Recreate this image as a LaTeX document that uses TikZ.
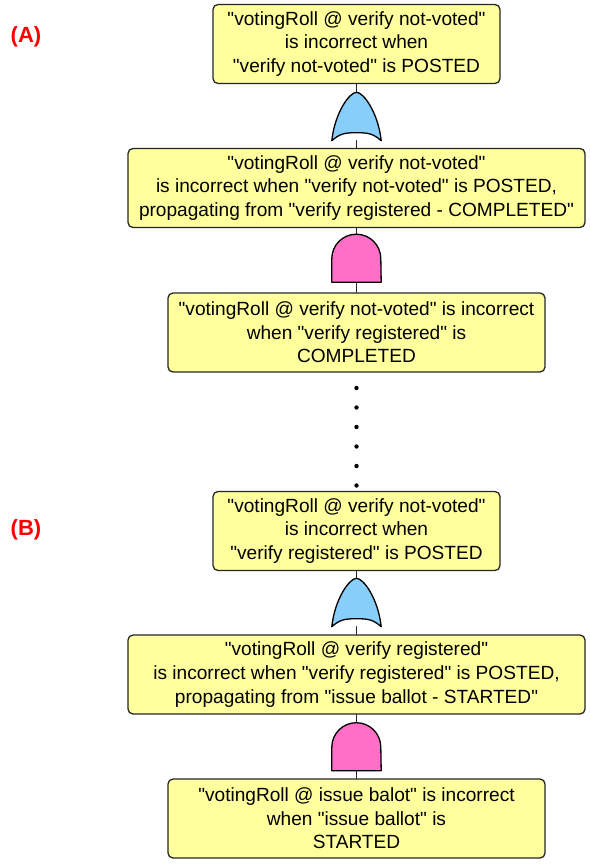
\documentclass[tikz,border=0pt]{standalone}
\usepackage{fontspec}
\setmainfont{Liberation Sans}[Ligatures=TeXOff]
\definecolor{boxfill}{HTML}{FFFF9E}
\definecolor{orblue}{HTML}{87CEFA}
\definecolor{andpink}{HTML}{FF6EC7}

% gate symbols drawn over an empty gate node
\newcommand{\orgate}[1]{%
  \filldraw[fill=orblue, line width=1.3pt]
    (#1.south west) .. controls +(3,-28) and +(-7,0) .. (#1.north)
    .. controls +(7,0) and +(-3,-28) .. (#1.south east)
    .. controls +(-8,-7) and +(12,0) .. ([yshift=8pt]#1.south)
    .. controls +(-12,0) and +(8,-7) .. cycle;}
\newcommand{\andgate}[1]{%
  \filldraw[fill=andpink, line width=1.3pt]
    (#1.south west) -- ++(0,-23.5) arc[start angle=180, end angle=0, radius=24.5pt]
    -- (#1.south east) -- cycle;}

\begin{document}
\begin{tikzpicture}[x=1pt, y=-1pt, line cap=round, line join=round,
    event/.style={draw=black!85, line width=1.3pt, rounded corners=5pt, fill=boxfill,
      align=center, minimum height=79pt, inner sep=0pt,
      font=\fontsize{19.1}{23.6}\selectfont},
    gate/.style={minimum width=49pt, minimum height=48pt, inner sep=0pt},
    link/.style={line width=1.3pt, black!85},
    tag/.style={text=red, font=\fontsize{22}{26}\selectfont\bfseries}]
    % Define main parameters
    \def\gx{356.5}   % axis of the tree
    \useasboundingbox (0,0) rectangle (589,867);

    % Tags
    \node[tag] (tagA) at (26,37) {(A)};
    \node[tag] (tagB) at (26,530) {(B)};

    % Events, part (A)
    \node[event, minimum width=287pt] (b1) at (\gx,44)
      {"votingRoll @ verify not-voted"\\ is incorrect when\\ "verify not-voted" is POSTED};
    \node[gate] (g1) at (\gx,116.5) {};
    \node[event, minimum width=457pt] (b2) at (\gx,188)
      {"votingRoll @ verify not-voted"\\ is incorrect when "verify not-voted" is POSTED,\\
       propagating from "verify registered - COMPLETED"};
    \node[gate] (g2) at (\gx,258) {};
    \node[event, minimum width=377pt] (b3) at (\gx,332.5)
      {"votingRoll @ verify not-voted" is incorrect\\ when "verify registered" is\\ COMPLETED};

    % Gap in the chain
    \foreach \k in {0,...,5}
      \fill (\gx,388+19.5*\k) circle[radius=2.2pt];

    % Events, part (B)
    \node[event, minimum width=287pt] (b4) at (\gx,531)
      {"votingRoll @ verify not-voted"\\ is incorrect when\\ "verify registered" is POSTED};
    \node[gate] (g3) at (\gx,602.5) {};
    \node[event, minimum width=457pt] (b5) at (\gx,674.5)
      {"votingRoll @ verify registered"\\ is incorrect when "verify registered" is POSTED,\\
       propagating from "issue ballot - STARTED"};
    \node[gate] (g4) at (\gx,746.5) {};
    \node[event, minimum width=377pt] (b6) at (\gx,818.5)
      {"votingRoll @ issue balot" is incorrect\\ when "issue ballot" is\\ STARTED};

    % Connectors
    \draw[link] (b1) -- (g1);
    \draw[link] (g1) -- (b2);
    \draw[link] (b2) -- (g2);
    \draw[link] (g2) -- (b3);
    \draw[link] (b4) -- (g3);
    \draw[link] (g3) -- (b5);
    \draw[link] (b5) -- (g4);
    \draw[link] (g4) -- (b6);

    % Gates
    \orgate{g1}
    \andgate{g2}
    \orgate{g3}
    \andgate{g4}
\end{tikzpicture}
\end{document}
